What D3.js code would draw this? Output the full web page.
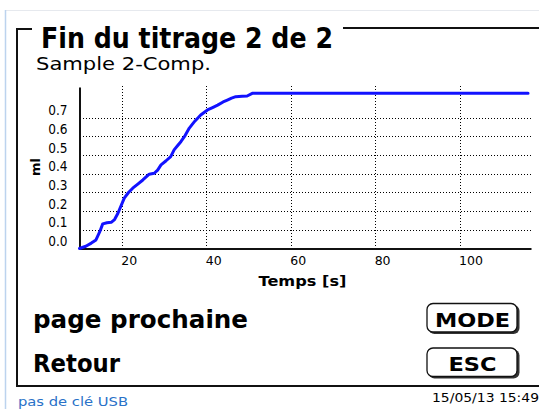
<!DOCTYPE html>
<html>
<head>
<meta charset="utf-8">
<script src="https://cdn.jsdelivr.net/npm/d3@7"></script>
<style>
  html, body { margin: 0; padding: 0; background: #ffffff; overflow: hidden; }
  svg { display: block; }
  text { font-family: "DejaVu Sans", Verdana, sans-serif; }
</style>
</head>
<body>
<svg id="screen" width="539" height="409"></svg>
<script>
// Titration curve: dosed volume (ml) against time (s)
const timeValues = [10, 11.5, 12.8, 13.9, 14.8, 15.5, 16.5, 17.5, 18.3, 19.1,
  20.6, 21.6, 22.6, 23.8, 25, 26.5, 27.7, 28.5, 29.3, 30.5,
  31.6, 32.4, 33.2, 34, 35, 36, 37.3, 38.7, 40.3, 41.5,
  42.7, 44, 45, 46, 47, 48.5, 49.7, 50.9, 116.2];
const volumeValues = [0, 0.012, 0.029, 0.046, 0.09, 0.132, 0.138, 0.14, 0.155, 0.189,
  0.27, 0.3, 0.323, 0.345, 0.367, 0.398, 0.403, 0.42, 0.448, 0.47,
  0.492, 0.528, 0.55, 0.572, 0.605, 0.645, 0.682, 0.715, 0.742, 0.755,
  0.768, 0.785, 0.795, 0.805, 0.813, 0.815, 0.817, 0.831, 0.831];
const xTickValues = [20, 40, 60, 80, 100];
const yTickValues = [0, 0.1, 0.2, 0.3, 0.4, 0.5, 0.6, 0.7];

const titleText = "Fin du titrage 2 de 2";
const sampleText = "Sample 2-Comp.";
const xAxisTitle = "Temps [s]";
const yAxisTitle = "ml";
const menuLabels = ["page prochaine", "Retour"];
const keyLabels = ["MODE", "ESC"];
const usbStatus = "pas de clé USB";
const dateStamp = "15/05/13 15:49";

const svg = d3.select("#screen");

// window edges
svg.append("line").attr("x1", 5).attr("x2", 539).attr("y1", 10.5).attr("y2", 10.5)
  .attr("stroke", "#e6e9ee").attr("stroke-width", 1);
svg.append("line").attr("x1", 5.5).attr("x2", 5.5).attr("y1", 10).attr("y2", 409)
  .attr("stroke", "#bcd3ee").attr("stroke-width", 1.5);

// frame around the page
const frame = svg.append("g").attr("stroke", "#111").attr("stroke-width", 2).attr("fill", "none");
frame.append("path").attr("d", "M32,29 H17 V386 H539");
frame.append("line").attr("x1", 343).attr("x2", 539).attr("y1", 28).attr("y2", 28);

svg.append("text").attr("x", 41).attr("y", 47.5)
  .attr("font-size", 28).attr("font-weight", "bold").attr("fill", "#000")
  .attr("textLength", 292).attr("lengthAdjust", "spacingAndGlyphs")
  .text(titleText);
svg.append("text").attr("x", 36).attr("y", 70)
  .attr("font-size", 18).attr("fill", "#000")
  .attr("textLength", 175).attr("lengthAdjust", "spacingAndGlyphs")
  .text(sampleText);

// scales
const x = d3.scaleLinear().domain([10, 116.9]).range([79.5, 531]);
const y = d3.scaleLinear().domain([0, 0.865]).range([248.5, 87]);

// dotted grid
const gridX = svg.append("g").attr("transform", "translate(0,248.5)")
  .call(d3.axisBottom(x).tickValues(xTickValues).tickSize(-163).tickFormat(""));
gridX.select(".domain").remove();
gridX.selectAll("line").attr("stroke", "#000").attr("stroke-dasharray", "1,2")
  .attr("shape-rendering", "crispEdges");

const gridY = svg.append("g").attr("transform", "translate(79.5,0)")
  .call(d3.axisLeft(y).tickValues(yTickValues.filter(d => d > 0)).tickSize(-451.5).tickFormat(""));
gridY.select(".domain").remove();
gridY.selectAll("line").attr("stroke", "#000").attr("stroke-dasharray", "1,2")
  .attr("shape-rendering", "crispEdges");

// axes
const xAxis = svg.append("g").attr("transform", "translate(0,248.5)")
  .call(d3.axisBottom(x).tickValues(xTickValues).tickSize(0).tickPadding(0).tickFormat(d3.format("d")));
xAxis.attr("font-size", 12.5).attr("font-family", "DejaVu Sans");
xAxis.select(".domain").attr("stroke", "#111").attr("stroke-width", 2);
xAxis.selectAll("text").attr("fill", "#000")
  .attr("text-anchor", "start").attr("dx", -1).attr("dy", 0).attr("y", 16.5);

const yAxis = svg.append("g").attr("transform", "translate(79.5,0)")
  .call(d3.axisLeft(y).tickValues(yTickValues).tickSize(0).tickPadding(0).tickFormat(d3.format(".1f")));
yAxis.attr("font-size", 13.5).attr("font-family", "'DejaVu Sans Condensed', 'DejaVu Sans', sans-serif");
yAxis.select(".domain").attr("stroke", "#111").attr("stroke-width", 2);
yAxis.selectAll("text").attr("fill", "#000")
  .attr("text-anchor", "end").attr("x", -12).attr("dy", -3)
  .style("font-family", "'DejaVu Sans Condensed', 'DejaVu Sans', sans-serif")
  .style("font-size", "13.5px");

svg.append("text").attr("x", 302.5).attr("y", 285.5).attr("text-anchor", "middle")
  .attr("font-size", 14).attr("font-weight", "bold").attr("fill", "#000")
  .attr("textLength", 88).attr("lengthAdjust", "spacingAndGlyphs")
  .text(xAxisTitle);
svg.append("text").attr("transform", "translate(40,167) rotate(-90)")
  .attr("text-anchor", "middle").attr("font-size", 13).attr("font-weight", "bold").attr("fill", "#000")
  .text(yAxisTitle);

// titration curve
const curve = d3.line().x(d => x(d[0])).y(d => y(d[1]));
svg.append("path")
  .datum(timeValues.map((t, i) => [t, volumeValues[i]]))
  .attr("d", curve)
  .attr("fill", "none").attr("stroke", "#1212ff").attr("stroke-width", 3)
  .attr("stroke-linejoin", "round").attr("stroke-linecap", "round");

// menu entries
const menuY = [327.5, 371.5];
menuLabels.forEach((label, i) => {
  svg.append("text").attr("x", 33).attr("y", menuY[i])
    .attr("font-size", 25).attr("font-weight", "bold").attr("fill", "#000")
    .attr("textLength", i === 0 ? 215 : 87).attr("lengthAdjust", "spacingAndGlyphs")
    .text(label);
});

// key buttons
const keyTop = [303.5, 348];
const keyTextWidth = [75, 48];
keyLabels.forEach((label, i) => {
  const g = svg.append("g");
  g.append("rect").attr("x", 428.5).attr("y", keyTop[i] + 1.5).attr("width", 91).attr("height", 29)
    .attr("rx", 6).attr("fill", "#333");
  g.append("rect").attr("x", 427).attr("y", keyTop[i]).attr("width", 90).attr("height", 28.5)
    .attr("rx", 6).attr("fill", "#fff").attr("stroke", "#111").attr("stroke-width", 1.3);
  g.append("text").attr("x", 472.5).attr("y", keyTop[i] + 23)
    .attr("text-anchor", "middle").attr("font-size", 19).attr("font-weight", "bold").attr("fill", "#000")
    .attr("textLength", keyTextWidth[i]).attr("lengthAdjust", "spacingAndGlyphs")
    .text(label);
});

// status line
svg.append("text").attr("x", 18).attr("y", 405.5)
  .attr("font-size", 12).attr("fill", "#2a72c8")
  .attr("textLength", 110).attr("lengthAdjust", "spacingAndGlyphs")
  .text(usbStatus);
svg.append("text").attr("x", 432).attr("y", 402)
  .attr("font-size", 11.5).attr("fill", "#000")
  .attr("textLength", 107).attr("lengthAdjust", "spacingAndGlyphs")
  .text(dateStamp);
</script>
</body>
</html>
